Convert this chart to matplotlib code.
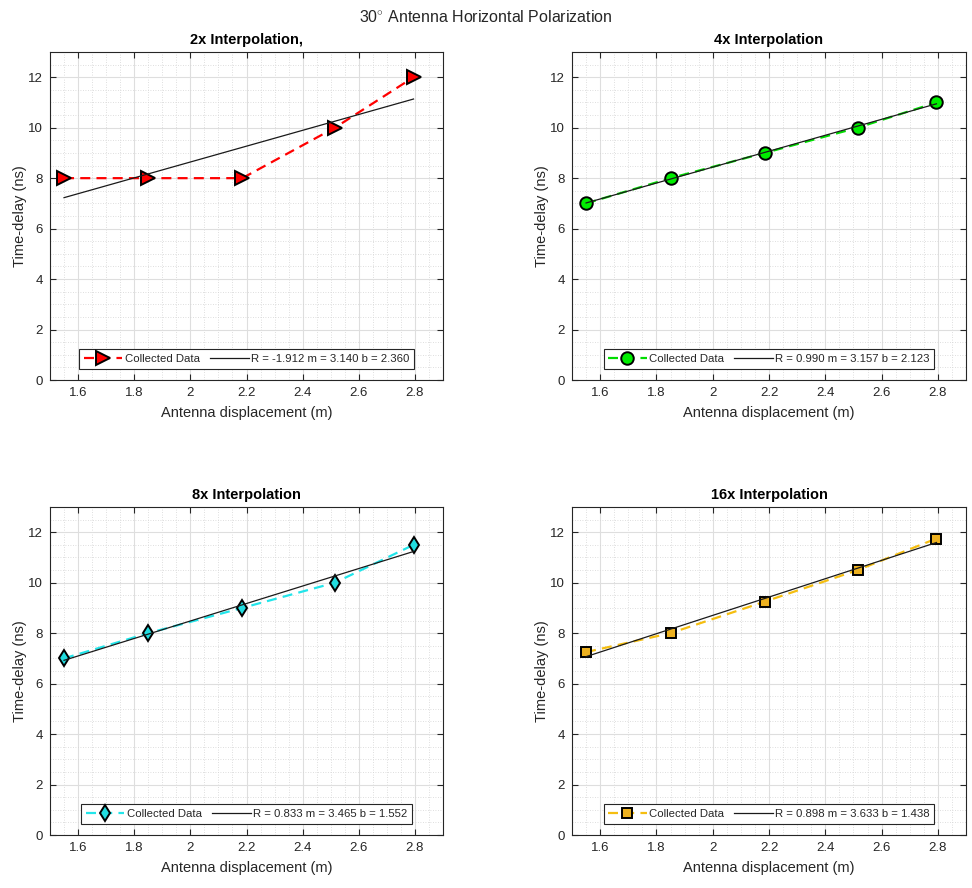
import matplotlib
matplotlib.use("Agg")
import matplotlib.pyplot as plt
from matplotlib.ticker import MultipleLocator, FuncFormatter
import numpy as np

# Antenna displacement (m) and measured time-delay (ns) per interpolation factor
x_disp = [1.55, 1.85, 2.185, 2.515, 2.795]
delay_2x = [8, 8, 8, 10, 12]
delay_4x = [7, 8, 9, 10, 11]
delay_8x = [7, 8, 9, 10, 11.5]
delay_16x = [7.25, 8, 9.25, 10.5, 11.75]

# Linear fit results (R, slope m, intercept b)
fit_2x = (-1.912, 3.140, 2.360)
fit_4x = (0.990, 3.157, 2.123)
fit_8x = (0.833, 3.465, 1.552)
fit_16x = (0.898, 3.633, 1.438)

titles = ["2x Interpolation,", "4x Interpolation", "8x Interpolation", "16x Interpolation"]

plt.rcParams['font.family'] = ['Liberation Sans', 'DejaVu Sans']
plt.rcParams['mathtext.fontset'] = 'custom'
plt.rcParams['mathtext.rm'] = 'Liberation Sans'

fig = plt.figure(figsize=(9.72, 8.88), dpi=100)
fig.patch.set_facecolor('white')

W, H = 972, 888
# axes boxes in pixels: left, top, right, bottom
boxes = [(50, 52, 443, 380), (572, 52, 966, 380),
         (50, 507, 443, 835), (572, 507, 966, 835)]

series = [
    (delay_2x, fit_2x, '>', 'red', 'red', 10.5),
    (delay_4x, fit_4x, 'o', '#00ee00', '#00dd00', 9),
    (delay_8x, fit_8x, 'd', '#22dde0', '#22e5ea', 8.6),
    (delay_16x, fit_16x, 's', '#edb120', '#f5be10', 6.8),
]

dark = '#262626'
fmt = FuncFormatter(lambda v, p: '%g' % round(v, 3))

for box, title, (y, fit, mk, mface, lcolor, ms) in zip(boxes, titles, series):
    l, t, r, b = box
    ax = fig.add_axes([l / W, 1 - b / H, (r - l) / W, (b - t) / H])

    ax.plot(x_disp, y, linestyle='--', dashes=(4.5, 2.8), color=lcolor, lw=1.6,
            marker=mk, markersize=ms, markerfacecolor=mface,
            markeredgecolor='black', markeredgewidth=1.4,
            label='Collected Data', zorder=3)

    R, m, bb = fit
    xf = np.array([x_disp[0], x_disp[-1]])
    ax.plot(xf, m * xf + bb, color='#1a1a1a', lw=0.9, zorder=4,
            label='R = %.3f m = %.3f b = %.3f' % (R, m, bb))

    ax.set_xlim(1.5, 2.9)
    ax.set_ylim(0, 13)
    ax.xaxis.set_major_locator(MultipleLocator(0.2))
    ax.xaxis.set_minor_locator(MultipleLocator(0.05))
    ax.yaxis.set_major_locator(MultipleLocator(2))
    ax.yaxis.set_minor_locator(MultipleLocator(0.5))
    ax.xaxis.set_major_formatter(fmt)
    ax.set_xticks(np.arange(1.6, 2.81, 0.2))

    ax.grid(True, which='major', color='#dedede', lw=0.8, ls='-')
    ax.grid(True, which='minor', color='#d4d4d4', lw=0.6, ls=(0, (1, 2)))
    ax.set_axisbelow(True)

    ax.tick_params(which='major', direction='in', length=4, width=0.8,
                   color=dark, labelcolor=dark, labelsize=9.5,
                   top=True, right=True, pad=5)
    ax.tick_params(which='minor', length=0, top=True, right=True)
    for s in ax.spines.values():
        s.set_color(dark)
        s.set_linewidth(0.8)

    ax.set_xlabel('Antenna displacement (m)', fontsize=10.5, color=dark, labelpad=5)
    ax.set_ylabel('Time-delay (ns)', fontsize=10.5, color=dark, labelpad=1)
    ax.set_title(title, fontsize=10.5, fontweight='bold', color='black', pad=6)

    leg = ax.legend(loc='lower center', bbox_to_anchor=(0.5, 0.035), ncol=2,
                    fontsize=8.2, handlelength=3.4, handletextpad=0.2,
                    columnspacing=0.9, borderpad=0.4, borderaxespad=0,
                    fancybox=False, framealpha=1, numpoints=1)
    leg.get_frame().set_edgecolor(dark)
    leg.get_frame().set_linewidth(0.8)
    for txt in leg.get_texts():
        txt.set_color(dark)

fig.text(0.5, 1 - 17 / H, r'30$^{\circ}$ Antenna Horizontal Polarization',
         ha='center', va='center', fontsize=11.5, color=dark)

fig.savefig('out.png', dpi=100, facecolor='white')
